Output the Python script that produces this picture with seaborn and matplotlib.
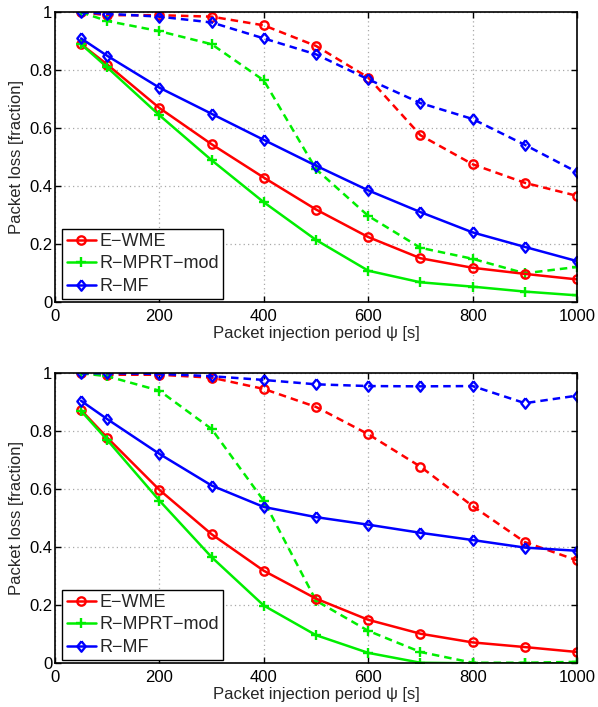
import numpy as np
import pandas as pd
import matplotlib
matplotlib.use('Agg')
import matplotlib.pyplot as plt
import seaborn as sns

# periods on x axis
period = [50, 100, 200, 300, 400, 500, 600, 700, 800, 900, 1000]

# upper panel
top_wme = [0.89, 0.82, 0.67, 0.545, 0.43, 0.32, 0.225, 0.152, 0.119, 0.098, 0.079]
top_mprt = [0.89, 0.81, 0.645, 0.49, 0.345, 0.215, 0.109, 0.069, 0.054, 0.037, 0.024]
top_mf = [0.91, 0.85, 0.74, 0.65, 0.56, 0.471, 0.386, 0.311, 0.241, 0.191, 0.142]
top_wme_d = [1.0, 0.99, 0.99, 0.985, 0.955, 0.884, 0.775, 0.576, 0.476, 0.412, 0.367]
top_mprt_d = [1.0, 0.97, 0.935, 0.89, 0.765, 0.459, 0.298, 0.188, 0.150, 0.100, 0.122]
top_mf_d = [1.0, 0.995, 0.985, 0.965, 0.91, 0.855, 0.769, 0.687, 0.632, 0.543, 0.449]

# lower panel
bot_wme = [0.873, 0.778, 0.598, 0.445, 0.319, 0.223, 0.150, 0.102, 0.072, 0.056, 0.039]
bot_mprt = [0.87, 0.77, 0.561, 0.366, 0.199, 0.097, 0.036, 0.002, 0.0, 0.0, 0.0]
bot_mf = [0.905, 0.842, 0.722, 0.613, 0.539, 0.504, 0.478, 0.450, 0.425, 0.399, 0.388]
bot_wme_d = [1.0, 0.995, 0.995, 0.985, 0.946, 0.884, 0.790, 0.678, 0.542, 0.418, 0.355]
bot_mprt_d = [1.0, 0.99, 0.94, 0.808, 0.56, 0.216, 0.112, 0.039, 0.002, 0.002, 0.005]
bot_mf_d = [1.0, 1.0, 0.998, 0.99, 0.977, 0.962, 0.956, 0.955, 0.956, 0.897, 0.923]

names = ['E\u2212WME', 'R\u2212MPRT\u2212mod', 'R\u2212MF']
colors = ['#ff0000', '#00ee00', '#0000ff']
# narrow diamond like the matlab one
diamond = [(0, 1), (0.8, 0), (0, -1), (-0.8, 0), (0, 1)]
markers = ['o', '+', diamond]
msizes = [6, 7, 7.5]

sns.set_style('ticks')
plt.rcParams['font.family'] = ['Liberation Sans', 'DejaVu Sans']
plt.rcParams['font.size'] = 12

fig = plt.figure(figsize=(5.98, 7.07), dpi=100)
ax1 = fig.add_axes([0.092, 0.5724, 0.873, 0.4102])
ax2 = fig.add_axes([0.092, 0.0618, 0.873, 0.4102])

panels = [
    (ax1, [top_wme, top_mprt, top_mf], [top_wme_d, top_mprt_d, top_mf_d]),
    (ax2, [bot_wme, bot_mprt, bot_mf], [bot_wme_d, bot_mprt_d, bot_mf_d]),
]

for ax, solid, dashed in panels:
    # dashed first so the solid ones sit on top
    for vals, c, m, ms in zip(dashed, colors, markers, msizes):
        df = pd.DataFrame({'x': period, 'y': vals})
        sns.lineplot(data=df, x='x', y='y', ax=ax, color=c, lw=1.8,
                     linestyle=(0, (3, 2)), marker=m, markersize=ms,
                     markerfacecolor='none', markeredgecolor=c,
                     markeredgewidth=1.7)
    for vals, c, m, ms, n in zip(solid, colors, markers, msizes, names):
        df = pd.DataFrame({'x': period, 'y': vals})
        sns.lineplot(data=df, x='x', y='y', ax=ax, color=c, lw=1.8,
                     marker=m, markersize=ms, markerfacecolor='none',
                     markeredgecolor=c, markeredgewidth=1.7, label=n)

    ax.set_xlim(0, 1000)
    ax.set_ylim(0, 1)
    ax.set_xticks([0, 200, 400, 600, 800, 1000])
    ax.set_yticks([0, 0.2, 0.4, 0.6, 0.8, 1])
    ax.set_yticklabels(['0', '0.2', '0.4', '0.6', '0.8', '1'])
    ax.tick_params(direction='in', length=4, width=1, top=True, right=True,
                   labelsize=12, colors='black')
    ax.tick_params(axis='x', pad=5)
    ax.tick_params(axis='y', pad=2)
    ax.grid(True, linestyle=(0, (1, 2.5)), color='#a8a8a8', lw=0.9)
    for s in ax.spines.values():
        s.set_visible(True)
        s.set_color('black')
        s.set_linewidth(1.2)
    ax.set_xlabel('Packet injection period \u03c8 [s]', fontsize=12, labelpad=1)
    ax.set_ylabel('Packet loss [fraction]', fontsize=12, labelpad=4)
    leg = ax.legend(loc='lower left', bbox_to_anchor=(0.014, 0.01),
                    fontsize=13, frameon=True, fancybox=False,
                    edgecolor='black', framealpha=1, borderpad=0.25,
                    labelspacing=0.3, handlelength=1.6, handletextpad=0.2,
                    borderaxespad=0)
    leg.get_frame().set_linewidth(1)

fig.savefig('out.png', dpi=100)
